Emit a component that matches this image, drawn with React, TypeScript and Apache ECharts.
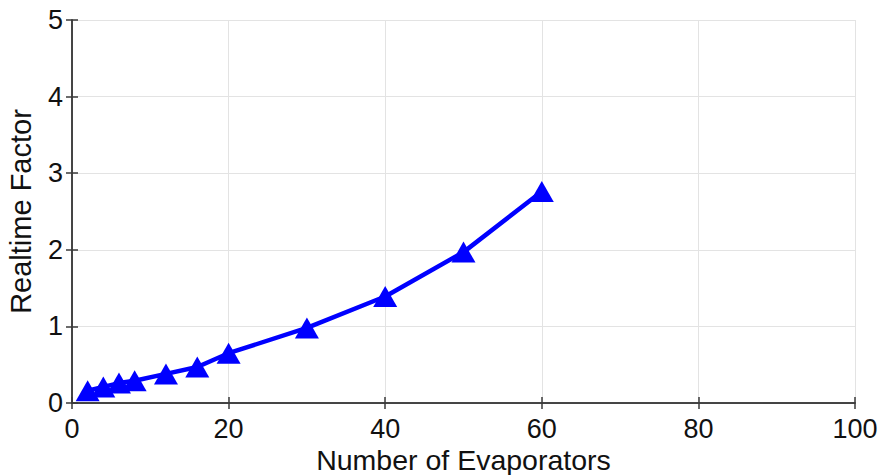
import React, { useEffect, useRef } from "react";
import * as echarts from "echarts";

// Number of evaporators simulated and the resulting realtime factor
const evaporators = [2, 4, 6, 8, 12, 16, 20, 30, 40, 50, 60];
const realtimeFactor = [0.16, 0.21, 0.26, 0.29, 0.38, 0.47, 0.65, 0.98, 1.39, 1.97, 2.76];

const xTicks = [0, 20, 40, 60, 80, 100];
const yTicks = [0, 1, 2, 3, 4, 5];

const FONT = "'Liberation Sans', Arial, Helvetica, sans-serif";
const FRAME = "#3a3a3a";
const GRID = "#e3e3e3";

export default function App() {
  const ref = useRef<HTMLDivElement>(null);

  useEffect(() => {
    document.body.style.margin = "0";
    if (!ref.current) return;
    const chart = echarts.init(ref.current, undefined, { renderer: "svg" });

    const tickLabel = { color: "#111", fontSize: 27, fontFamily: FONT };
    const frameLine = { show: true, lineStyle: { color: FRAME, width: 1.5 } };
    const innerTick = { show: true, inside: true, length: 6, lineStyle: { color: FRAME, width: 1.5 } };

    chart.setOption({
      animation: false,
      backgroundColor: "#ffffff",
      grid: {
        left: 72,
        right: 26,
        top: 20,
        bottom: 72,
        containLabel: false,
        outerBoundsMode: "none",
      },
      xAxis: [
        {
          type: "value",
          min: xTicks[0],
          max: xTicks[xTicks.length - 1],
          interval: 20,
          position: "bottom",
          name: "Number of Evaporators",
          nameLocation: "middle",
          nameGap: 42,
          nameMoveOverlap: false,
          nameTextStyle: { color: "#111", fontSize: 28.5, fontFamily: FONT, lineHeight: 30 },
          axisLine: frameLine,
          axisTick: innerTick,
          axisLabel: { ...tickLabel, margin: 12 },
          splitLine: { show: true, lineStyle: { color: GRID, width: 1 } },
        },
        {
          type: "value",
          min: xTicks[0],
          max: xTicks[xTicks.length - 1],
          interval: 20,
          position: "top",
          axisLine: frameLine,
          axisTick: innerTick,
          axisLabel: { show: false },
          splitLine: { show: false },
        },
      ],
      yAxis: [
        {
          type: "value",
          min: yTicks[0],
          max: yTicks[yTicks.length - 1],
          interval: 1,
          position: "left",
          name: "Realtime Factor",
          nameLocation: "middle",
          nameGap: 37,
          nameMoveOverlap: false,
          nameTextStyle: { color: "#111", fontSize: 29, fontFamily: FONT },
          axisLine: frameLine,
          axisTick: innerTick,
          axisLabel: { ...tickLabel, margin: 9 },
          splitLine: { show: true, lineStyle: { color: GRID, width: 1 } },
        },
        {
          type: "value",
          min: yTicks[0],
          max: yTicks[yTicks.length - 1],
          interval: 1,
          position: "right",
          axisLine: frameLine,
          axisTick: innerTick,
          axisLabel: { show: false },
          splitLine: { show: false },
        },
      ],
      series: [
        {
          type: "line",
          xAxisIndex: 0,
          yAxisIndex: 0,
          data: evaporators.map((x, i) => [x, realtimeFactor[i]]),
          lineStyle: { color: "#0000ff", width: 4.5 },
          itemStyle: { color: "#0000ff" },
          symbol: "triangle",
          symbolSize: [24, 21],
          showSymbol: true,
        },
      ],
    });

    return () => chart.dispose();
  }, []);

  return <div ref={ref} style={{ width: 881, height: 475 }} />;
}
